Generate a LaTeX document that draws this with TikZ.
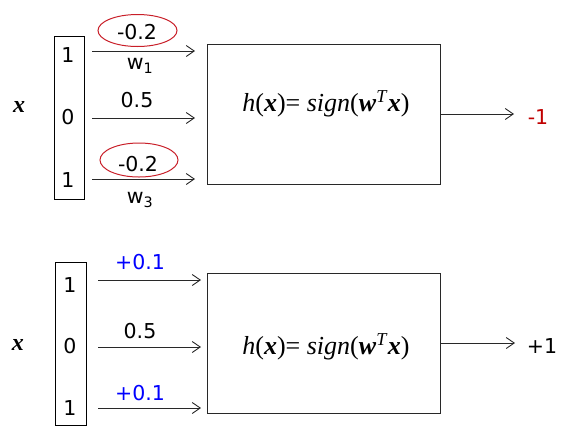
\documentclass[tikz,border=0pt]{standalone}
\usepackage{fontspec}
\setmainfont{DejaVu Sans}
\newfontfamily\formfont{Liberation Serif}
\usetikzlibrary{arrows.meta}
\definecolor{dred}{RGB}{192,0,0}
\definecolor{ered}{RGB}{200,30,40}
\definecolor{wblue}{RGB}{0,0,255}
\definecolor{lgray}{RGB}{40,40,40}
\tikzset{
  vecbox/.style={draw=black, line width=1pt, inner sep=0pt},
  funbox/.style={draw=lgray, line width=1pt, inner sep=0pt},
  conn/.style={draw=lgray, line width=0.9pt, -{Straight Barb[length=8pt,width=11pt,line width=0.9pt]}},
  lab/.style={font=\fontsize{20.5}{22}\selectfont, inner sep=0pt},
  xlab/.style={font=\formfont\fontsize{24}{26}\selectfont\bfseries\itshape, inner sep=0pt},
  form/.style={font=\formfont\fontsize{26}{28}\selectfont, inner sep=0pt},
  pt/.style={inner sep=0pt, minimum size=0pt},
  oval/.style={draw=ered, line width=1pt, ellipse}
}
\newcommand{\hform}{\textit{h}(\textbf{\textit{x}})= \textit{sign}(\textbf{\textit{w}}\textsuperscript{\textit{T}}\textbf{\textit{x}})}
\begin{document}
\begin{tikzpicture}[x=1pt,y=-1pt]
\useasboundingbox (0,0) rectangle (564,437);
% ---------- top ----------
\node[xlab] (xt) at (19,107) {x};
\draw[vecbox] (54,36) rectangle (84,199);
\node[lab] (t1) at (68,55) {1};
\node[lab] (t0) at (68,117) {0};
\node[lab] (t3) at (68,180) {1};
\node[funbox, minimum width=233pt, minimum height=140pt] (ht) at (323.5,114) {};
\node[form] (ft) at (326,104) {\hform};
\coordinate (a1s) at (92,51);  \coordinate (a1e) at (195,51);
\coordinate (a2s) at (92,118); \coordinate (a2e) at (195,118);
\coordinate (a3s) at (92,179); \coordinate (a3e) at (195,179);
\draw[conn] (a1s) -- (a1e);
\draw[conn] (a2s) -- (a2e);
\draw[conn] (a3s) -- (a3e);
\draw[ered, line width=1pt] (137.5,30.5) ellipse (39.5 and 16);
\draw[ered, line width=1pt] (139,160) ellipse (39 and 17);
\node[lab] (w1v) at (137,32) {-0.2};
\node[lab] (w1) at (140,66) {w\textsubscript{1}};
\node[lab] (w2v) at (137,100) {0.5};
\node[lab] (w3v) at (138,164) {-0.2};
\node[lab] (w3) at (140,200) {w\textsubscript{3}};
\node[lab, text=dred] (outt) at (538,117) {-1};
\draw[conn] (ht.east |- 0,114) -- (514,114);
% ---------- bottom ----------
\node[xlab] (xb) at (18,345) {x};
\draw[vecbox] (55,262) rectangle (86,425);
\node[lab] (b1) at (70,285) {1};
\node[lab] (b0) at (70,346) {0};
\node[lab] (b3) at (70,408) {1};
\node[funbox, minimum width=233pt, minimum height=140pt] (hb) at (323.5,343) {};
\node[form] (fb) at (326,347) {\hform};
\coordinate (b1s) at (98,280);  \coordinate (b1e) at (201,280);
\coordinate (b2s) at (98,347); \coordinate (b2e) at (201,347);
\coordinate (b3s) at (98,408); \coordinate (b3e) at (201,408);
\draw[conn] (b1s) -- (b1e);
\draw[conn] (b2s) -- (b2e);
\draw[conn] (b3s) -- (b3e);
\node[lab, text=wblue] (v1) at (140,262) {+0.1};
\node[lab] (v2) at (140,331) {0.5};
\node[lab, text=wblue] (v3) at (140,393) {+0.1};
\draw[conn] (hb.east |- 0,343) -- (515,343);
\node[lab] (outb) at (542,346) {+1};
\end{tikzpicture}
\end{document}
